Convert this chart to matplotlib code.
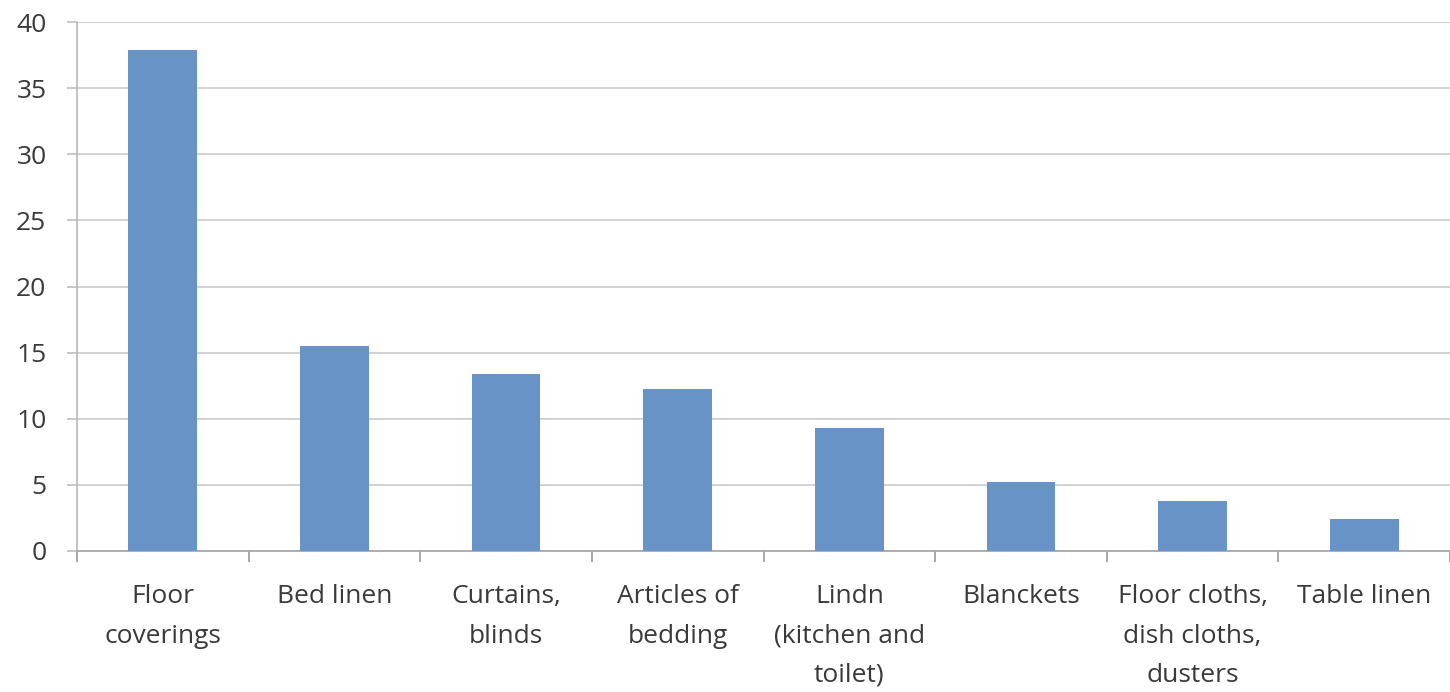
import matplotlib
matplotlib.use("Agg")
import matplotlib.pyplot as plt
from matplotlib.ticker import FixedLocator, NullFormatter
import numpy as np

categories = [
    "Floor\ncoverings",
    "Bed linen",
    "Curtains,\nblinds",
    "Articles of\nbedding",
    "Lindn\n(kitchen and\ntoilet)",
    "Blanckets",
    "Floor cloths,\ndish cloths,\ndusters",
    "Table linen",
]
values = [37.9, 15.5, 13.4, 12.25, 9.3, 5.2, 3.8, 2.4]
y_ticks = [0, 5, 10, 15, 20, 25, 30, 35, 40]

plt.rcParams["font.family"] = ["Open Sans", "DejaVu Sans"]

fig = plt.figure(figsize=(14.5, 6.92), dpi=100)
ax = fig.add_axes([77 / 1450, 141 / 692, 1 - 77 / 1450, 529 / 692])

x = np.arange(len(categories))
ax.bar(x, values, width=0.4, color="#6893c6", zorder=3)

ax.set_xlim(-0.5, len(categories) - 0.5)
ax.set_ylim(0, 40)
ax.set_yticks(y_ticks)
ax.yaxis.grid(True, color="#cfcfcf", linewidth=1.3, zorder=0)
ax.tick_params(axis="y", length=7, width=1.2, color="#bdbdbd", labelsize=19,
               labelcolor="#3a3a3a", pad=15)

# category labels centered under bars, tick marks between categories
ax.set_xticks(x)
ax.set_xticklabels(categories, fontsize=19, color="#3a3a3a", linespacing=1.75, va="top")
ax.tick_params(axis="x", length=0, pad=24)
ax.xaxis.set_minor_locator(FixedLocator(np.arange(-0.5, len(categories), 1.0)))
ax.xaxis.set_minor_formatter(NullFormatter())
ax.tick_params(axis="x", which="minor", length=8, width=1.2, color="#9a9a9a")

for side in ("top", "right"):
    ax.spines[side].set_visible(False)
ax.spines["left"].set_color("#bdbdbd")
ax.spines["left"].set_linewidth(1.3)
ax.spines["bottom"].set_color("#a8a8a8")
ax.spines["bottom"].set_linewidth(1.3)

fig.savefig("out.png", dpi=100)
